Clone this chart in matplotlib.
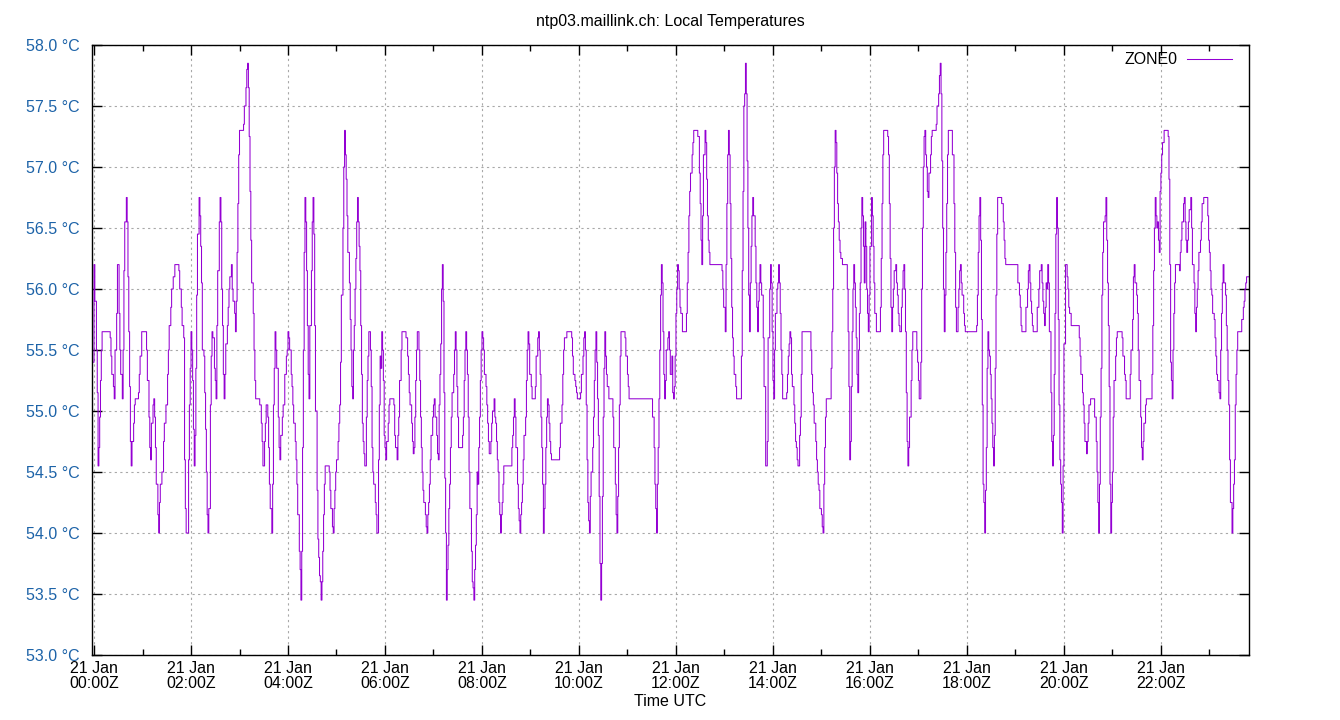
import numpy as np
import matplotlib
matplotlib.use("Agg")
import matplotlib.pyplot as plt
from matplotlib.ticker import FixedLocator, FuncFormatter

plt.rcParams['font.family'] = ['Liberation Sans', 'DejaVu Sans']

# readings as (minutes after 21 Jan 00:00Z, temperature in degC), one list per 2 hours
block_00 = [(-3, 54.3), (-2, 55.4), (0, 56.2), (1, 55.9), (3, 55.5), (4, 55.15), (5, 54.55), (6, 54.7),
            (7, 54.95), (8, 55.25), (9, 55.5), (10, 55.65), (20, 55.6), (21, 55.45), (22, 55.3), (24, 55.2),
            (25, 55.1), (26, 55.5), (28, 55.8), (29, 56.2), (31, 55.8), (32, 55.5), (33, 55.3), (35, 55.1),
            (36, 55.5), (37, 56.15), (38, 56.55), (40, 56.75), (41, 56.55), (42, 56.1), (43, 55.65), (44, 55.2),
            (45, 54.75), (46, 54.55), (47, 54.75), (49, 54.9), (50, 55.05), (51, 55.1), (55, 55.15), (56, 55.3),
            (57, 55.45), (59, 55.65), (65, 55.5), (66, 55.25), (68, 54.95), (69, 54.7), (70, 54.6), (71, 54.9),
            (73, 55.05), (74, 55.1), (75, 54.95), (76, 54.7), (77, 54.4), (79, 54.15), (80, 54.0), (81, 54.25),
            (82, 54.4), (84, 54.5), (86, 54.75), (87, 54.9), (89, 55.05), (91, 55.3), (92, 55.5), (93, 55.7),
            (95, 55.85), (96, 56.0), (98, 56.1), (100, 56.2), (105, 56.15), (106, 56.0), (108, 55.85), (109, 55.7),
            (111, 55.6), (112, 54.6), (113, 54.2), (114, 54.0)]
block_02 = [(117, 54.6), (118, 55.05), (119, 55.35), (120, 55.65), (121, 55.5), (122, 55.25), (123, 54.85),
            (124, 54.55), (125, 54.8), (126, 55.35), (127, 55.95), (128, 56.45), (130, 56.75), (131, 56.6),
            (132, 56.35), (133, 56.05), (134, 55.5), (136, 55.45), (137, 55.15), (138, 54.85), (139, 54.5),
            (140, 54.15), (141, 54.0), (142, 54.2), (144, 55.05), (145, 55.45), (146, 55.65), (147, 55.6),
            (149, 55.35), (150, 55.25), (151, 55.1), (152, 55.7), (153, 56.15), (155, 56.55), (156, 56.75),
            (157, 56.55), (158, 56.0), (159, 55.7), (160, 55.3), (161, 55.1), (162, 55.3), (163, 55.55),
            (165, 55.7), (166, 55.85), (167, 56.0), (168, 56.1), (170, 56.2), (171, 56.0), (172, 55.9),
            (174, 55.8), (175, 55.65), (176, 55.9), (177, 56.3), (178, 56.7), (179, 57.1), (180, 57.3),
            (185, 57.35), (186, 57.5), (188, 57.65), (189, 57.8), (190, 57.85), (191, 57.65), (192, 57.25),
            (193, 56.8), (194, 56.4), (195, 56.05), (197, 55.8), (198, 55.5), (199, 55.25), (200, 55.1),
            (205, 55.05), (207, 54.9), (208, 54.75), (209, 54.55), (211, 54.75), (212, 54.9), (213, 55.05),
            (215, 54.95), (216, 54.7), (217, 54.4), (218, 54.2), (220, 54.0), (221, 54.4), (222, 55.05),
            (223, 55.35), (224, 55.65), (225, 55.5), (226, 55.35), (228, 54.95), (229, 54.7), (230, 54.6),
            (231, 54.8), (233, 54.95), (234, 55.05)]
block_04 = [(236, 55.3), (238, 55.45), (239, 55.5), (240, 55.65), (241, 55.6), (242, 55.5), (244, 55.3),
            (245, 55.2), (246, 55.05), (247, 54.9), (249, 54.75), (250, 54.6), (251, 54.4), (252, 54.15),
            (254, 53.85), (255, 53.7), (256, 53.45), (257, 53.85), (258, 54.7), (259, 55.5), (260, 56.3),
            (261, 56.75), (262, 56.55), (263, 56.15), (264, 55.7), (265, 55.3), (266, 55.1), (267, 55.7),
            (269, 56.15), (270, 56.55), (271, 56.75), (272, 56.45), (273, 55.7), (274, 55.0), (276, 54.35),
            (277, 53.95), (278, 53.8), (279, 53.65), (280, 53.6), (281, 53.45), (282, 53.6), (283, 53.85),
            (284, 54.15), (285, 54.4), (286, 54.55), (291, 54.5), (292, 54.35), (293, 54.2), (295, 54.05),
            (296, 54.0), (297, 54.2), (298, 54.35), (299, 54.5), (300, 54.6), (302, 54.75), (303, 54.9),
            (304, 55.05), (305, 55.4), (306, 55.95), (308, 56.5), (309, 57.0), (310, 57.3), (311, 57.1),
            (312, 56.9), (313, 56.6), (314, 56.3), (316, 56.05), (317, 55.75), (318, 55.5), (319, 55.2),
            (320, 55.1), (321, 55.5), (322, 55.7), (323, 56.0), (324, 56.25), (325, 56.55), (326, 56.75),
            (327, 56.55), (328, 56.35), (329, 56.15), (330, 55.7), (331, 55.3), (332, 54.9), (333, 54.75),
            (334, 54.65), (335, 54.55), (337, 54.95), (338, 55.25), (339, 55.45), (340, 55.65), (342, 55.5),
            (343, 55.2), (344, 54.7), (345, 54.5), (346, 54.4), (348, 54.25), (349, 54.15), (350, 54.0),
            (352, 54.6), (353, 55.05), (354, 55.45)]
block_06 = [(355, 55.35), (356, 55.65), (357, 55.5), (358, 55.25), (359, 54.8), (360, 54.7), (361, 54.6),
            (362, 54.75), (364, 54.9), (365, 55.05), (366, 55.1), (371, 55.05), (372, 54.8), (373, 54.7),
            (375, 54.6), (376, 54.8), (377, 54.95), (378, 55.25), (380, 55.5), (381, 55.65), (386, 55.6),
            (388, 55.45), (389, 55.3), (390, 55.15), (391, 55.05), (393, 54.9), (394, 54.75), (395, 54.65),
            (396, 54.7), (397, 54.95), (398, 55.25), (399, 55.5), (400, 55.65), (402, 55.5), (403, 55.25),
            (404, 54.95), (405, 54.7), (406, 54.5), (407, 54.35), (408, 54.25), (410, 54.15), (411, 54.05),
            (412, 54.0), (413, 54.15), (414, 54.25), (415, 54.4), (416, 54.6), (417, 54.8), (419, 54.95),
            (420, 55.05), (421, 55.1), (422, 54.95), (424, 54.8), (425, 54.65), (426, 54.6), (427, 55.05),
            (428, 55.3), (429, 55.55), (430, 56.0), (431, 56.2), (432, 55.9), (433, 55.15), (434, 54.45),
            (435, 54.0), (436, 53.45), (437, 53.7), (438, 53.9), (439, 54.2), (440, 54.4), (441, 54.7),
            (442, 54.95), (443, 55.15), (445, 55.3), (446, 55.5), (447, 55.65), (448, 55.5), (449, 55.2),
            (450, 54.95), (451, 54.7), (456, 54.8), (457, 54.95), (458, 55.25), (459, 55.5), (460, 55.65),
            (461, 55.5), (462, 55.3), (463, 54.95), (464, 54.5), (465, 54.2), (467, 53.85), (468, 53.6),
            (469, 53.55), (470, 53.45), (471, 53.7), (472, 53.9), (473, 54.15), (474, 54.5)]
block_08 = [(475, 54.4), (476, 54.7), (477, 54.95), (478, 55.25), (479, 55.5), (480, 55.65), (481, 55.6),
            (482, 55.5), (483, 55.3), (485, 55.2), (486, 55.05), (487, 54.9), (488, 54.75), (489, 54.65),
            (491, 54.75), (492, 54.9), (493, 55.0), (495, 55.1), (496, 54.95), (497, 54.9), (498, 54.75),
            (499, 54.6), (500, 54.5), (501, 54.25), (502, 54.15), (503, 54.0), (504, 54.15), (505, 54.25),
            (506, 54.4), (507, 54.55), (517, 54.7), (518, 54.8), (519, 54.95), (520, 55.1), (521, 54.95),
            (522, 54.7), (524, 54.4), (525, 54.2), (526, 54.1), (527, 54.0), (528, 54.15), (529, 54.25),
            (530, 54.4), (531, 54.6), (532, 54.8), (534, 54.95), (535, 55.25), (536, 55.5), (537, 55.65),
            (538, 55.55), (539, 55.3), (541, 55.2), (542, 55.1), (546, 55.2), (547, 55.45), (549, 55.6),
            (550, 55.65), (551, 55.5), (552, 55.3), (553, 54.95), (554, 54.7), (555, 54.4), (556, 54.0),
            (557, 54.2), (558, 54.4), (559, 54.7), (560, 54.95), (561, 55.1), (562, 55.05), (563, 54.9),
            (564, 54.75), (565, 54.65), (566, 54.6), (576, 54.7), (577, 54.9), (579, 55.05), (580, 55.3),
            (581, 55.5), (582, 55.6), (585, 55.65), (591, 55.6), (592, 55.45), (593, 55.3), (595, 55.25)]
block_10 = [(596, 55.2), (597, 55.15), (598, 55.1), (602, 55.15), (603, 55.3), (605, 55.45), (606, 55.6),
            (607, 55.65), (608, 55.5), (609, 55.05), (610, 54.6), (611, 54.25), (612, 54.1), (613, 54.0),
            (614, 54.3), (615, 54.5), (617, 54.7), (618, 54.95), (619, 55.25), (620, 55.5), (621, 55.65),
            (622, 55.4), (623, 55.1), (624, 54.8), (625, 54.3), (626, 53.75), (627, 53.45), (628, 53.75),
            (629, 54.3), (630, 54.95), (631, 55.35), (632, 55.65), (633, 55.45), (634, 55.3), (635, 55.2),
            (637, 55.1), (642, 54.95), (643, 54.7), (645, 54.4), (646, 54.15), (647, 54.0), (648, 54.3),
            (649, 54.7), (650, 55.05), (651, 55.45), (652, 55.65), (657, 55.6), (658, 55.45), (660, 55.3),
            (661, 55.2), (662, 55.1), (691, 54.95), (693, 54.7), (694, 54.4), (695, 54.2), (696, 54.0),
            (697, 54.4), (698, 54.7), (699, 55.1), (700, 55.5), (701, 55.95), (702, 56.2), (703, 56.05),
            (704, 55.65), (705, 55.3), (706, 55.1), (707, 55.25), (708, 55.5), (710, 55.6), (711, 55.65),
            (712, 55.5), (713, 55.3), (715, 55.45)]
block_12 = [(716, 55.15), (717, 55.1), (718, 55.2), (719, 55.45), (720, 55.8), (721, 56.0), (722, 56.2),
            (723, 56.15), (724, 56.0), (725, 55.85), (726, 55.8), (728, 55.65), (733, 55.8), (734, 56.05),
            (735, 56.3), (736, 56.6), (737, 56.8), (738, 56.95), (740, 57.1), (741, 57.2), (742, 57.3),
            (747, 57.25), (749, 56.95), (750, 56.7), (751, 56.4), (752, 56.2), (753, 56.6), (754, 57.1),
            (756, 57.3), (757, 57.2), (758, 56.9), (759, 56.6), (760, 56.4), (761, 56.3), (762, 56.2),
            (777, 56.15), (778, 56.0), (779, 55.85), (781, 55.65), (782, 56.2), (783, 56.7), (784, 57.1),
            (785, 57.3), (786, 57.1), (787, 56.7), (788, 56.25), (789, 55.85), (790, 55.6), (791, 55.45),
            (792, 55.3), (794, 55.2), (795, 55.1), (801, 55.45), (802, 56.15), (803, 56.8), (804, 57.5),
            (805, 57.6), (806, 57.85), (807, 57.6), (808, 57.05), (809, 56.5), (810, 55.95), (811, 55.65),
            (812, 56.05), (813, 56.35), (814, 56.6), (815, 56.75), (816, 56.6), (818, 56.35), (819, 56.05),
            (820, 55.85), (821, 55.65), (822, 55.9), (823, 56.05), (824, 56.2), (825, 56.05), (826, 55.95),
            (828, 55.6), (829, 55.2), (831, 54.55), (833, 54.75), (834, 55.6)]
block_14 = [(835, 55.6), (836, 56.0), (837, 56.2), (838, 56.05), (839, 55.65), (840, 55.25), (841, 55.1),
            (842, 55.5), (843, 55.8), (845, 56.0), (846, 56.05), (847, 56.2), (848, 56.05), (849, 55.8),
            (850, 55.5), (851, 55.3), (852, 55.1), (857, 55.15), (858, 55.3), (859, 55.45), (860, 55.55),
            (861, 55.65), (862, 55.6), (863, 55.3), (864, 55.2), (866, 55.05), (867, 54.9), (868, 54.75),
            (869, 54.7), (870, 54.6), (871, 54.55), (873, 54.8), (874, 54.95), (875, 55.3), (876, 55.65),
            (887, 55.5), (888, 55.3), (889, 55.15), (890, 55.05), (891, 54.9), (893, 54.75), (894, 54.6),
            (895, 54.5), (896, 54.4), (897, 54.35), (898, 54.2), (900, 54.15), (901, 54.05), (902, 54.0),
            (903, 54.4), (904, 54.7), (905, 54.95), (906, 55.1), (912, 55.35), (913, 55.65), (914, 56.0),
            (915, 56.5), (916, 57.0), (917, 57.3), (918, 57.2), (919, 56.95), (920, 56.7), (921, 56.55),
            (922, 56.4), (923, 56.3), (924, 56.25), (926, 56.2), (932, 56.0), (933, 55.65), (934, 55.2),
            (935, 54.6), (936, 54.75), (937, 55.2), (938, 55.65), (939, 56.0), (940, 56.2), (941, 56.05),
            (942, 55.85), (943, 55.6), (944, 55.3), (945, 55.15), (946, 55.5), (947, 55.8), (948, 56.05),
            (949, 56.5), (950, 56.75), (951, 56.6), (952, 56.35), (953, 56.05)]
block_16 = [(954, 56.55), (955, 56.35), (956, 56.0), (957, 55.8), (958, 55.65), (959, 55.95), (960, 56.35),
            (962, 56.75), (963, 56.6), (964, 56.35), (965, 56.05), (966, 55.8), (968, 55.65), (973, 55.85),
            (974, 56.25), (975, 56.7), (976, 57.1), (977, 57.3), (982, 57.25), (983, 57.1), (984, 56.7),
            (985, 56.25), (986, 55.85), (987, 55.65), (988, 55.85), (989, 56.0), (990, 56.15), (992, 56.2),
            (993, 56.05), (994, 55.95), (995, 55.8), (996, 55.7), (997, 55.65), (999, 55.85), (1000, 56.0),
            (1001, 56.15), (1002, 56.2), (1003, 56.0), (1004, 55.65), (1005, 55.15), (1006, 54.75),
            (1007, 54.55), (1008, 54.7), (1009, 54.95), (1011, 55.25), (1012, 55.5), (1013, 55.65),
            (1018, 55.5), (1019, 55.4), (1020, 55.25), (1021, 55.1), (1023, 55.4), (1024, 56.0), (1025, 56.5),
            (1026, 57.0), (1027, 57.25), (1028, 57.3), (1029, 57.1), (1030, 57.0), (1031, 56.8), (1032, 56.75),
            (1033, 56.95), (1035, 57.1), (1036, 57.25), (1037, 57.3), (1042, 57.35), (1043, 57.5), (1045, 57.6),
            (1046, 57.75), (1047, 57.85), (1048, 57.6), (1049, 57.05), (1050, 56.5), (1051, 56.0), (1052, 55.65),
            (1053, 55.95), (1054, 56.3), (1055, 56.7), (1056, 57.1), (1057, 57.3), (1062, 57.1), (1064, 56.7),
            (1065, 56.3), (1066, 55.85), (1067, 55.65), (1069, 55.85), (1070, 56.0), (1071, 56.15),
            (1072, 56.2), (1073, 56.05), (1074, 55.95)]
block_18 = [(1076, 55.8), (1077, 55.7), (1078, 55.65), (1092, 55.7), (1093, 55.95), (1094, 56.3), (1095, 56.6),
            (1096, 56.75), (1097, 56.4), (1098, 55.75), (1099, 55.05), (1100, 54.4), (1101, 54.25), (1102, 54.0),
            (1103, 54.35), (1104, 54.7), (1105, 55.35), (1106, 55.65), (1107, 55.5), (1108, 55.45), (1109, 55.3),
            (1110, 55.1), (1111, 54.9), (1112, 54.7), (1113, 54.55), (1114, 54.8), (1115, 55.35), (1116, 55.95),
            (1117, 56.45), (1118, 56.75), (1123, 56.7), (1125, 56.55), (1126, 56.4), (1127, 56.25), (1128, 56.2),
            (1143, 56.05), (1145, 55.95), (1146, 55.85), (1147, 55.7), (1148, 55.65), (1153, 55.85), (1155, 56.0),
            (1156, 56.15), (1157, 56.2), (1158, 56.05), (1159, 55.9), (1160, 55.8), (1161, 55.7), (1162, 55.65),
            (1167, 55.85), (1169, 56.0), (1170, 56.15), (1172, 56.2), (1173, 56.05), (1174, 55.9), (1175, 55.8),
            (1176, 55.7), (1177, 55.85), (1178, 56.05), (1179, 56.0), (1180, 56.2), (1181, 56.05), (1182, 55.65),
            (1184, 55.15), (1185, 54.75), (1186, 54.55), (1187, 54.8), (1188, 55.3), (1189, 55.8), (1190, 56.45),
            (1191, 56.75), (1192, 56.5), (1193, 55.75), (1194, 55.05)]
block_20 = [(1195, 54.6), (1196, 54.4), (1197, 54.25), (1198, 54.0), (1199, 54.55), (1200, 55.55), (1202, 56.2),
            (1204, 56.1), (1205, 56.0), (1206, 55.85), (1207, 55.8), (1209, 55.7), (1219, 55.6), (1220, 55.45),
            (1221, 55.3), (1223, 55.15), (1224, 55.05), (1225, 54.9), (1226, 54.75), (1228, 54.65), (1229, 54.75),
            (1230, 54.9), (1231, 55.05), (1233, 55.1), (1238, 54.95), (1240, 54.75), (1241, 54.5), (1242, 54.25),
            (1243, 54.0), (1244, 54.4), (1245, 54.95), (1246, 55.35), (1247, 55.95), (1248, 56.3), (1249, 56.55),
            (1251, 56.6), (1252, 56.75), (1253, 56.4), (1254, 56.05), (1255, 55.7), (1256, 55.2), (1257, 54.4),
            (1258, 54.0), (1259, 54.25), (1260, 54.5), (1261, 54.95), (1262, 55.25), (1264, 55.45), (1265, 55.6),
            (1266, 55.65), (1272, 55.6), (1273, 55.45), (1275, 55.3), (1276, 55.25), (1277, 55.1), (1282, 55.3),
            (1283, 55.5), (1285, 55.75), (1286, 56.1), (1287, 56.2), (1288, 56.05), (1290, 55.95), (1291, 55.8),
            (1292, 55.5), (1293, 55.25), (1295, 54.95), (1296, 54.7), (1297, 54.6), (1298, 54.75), (1299, 54.9),
            (1301, 55.05), (1302, 55.1), (1309, 55.3), (1310, 55.7), (1311, 56.15), (1312, 56.5), (1313, 56.75),
            (1314, 56.6)]
block_22 = [(1315, 56.5), (1316, 56.55), (1317, 56.4), (1318, 56.3), (1319, 56.8), (1320, 56.95), (1321, 57.1),
            (1322, 57.2), (1324, 57.3), (1329, 57.25), (1330, 56.9), (1331, 56.2), (1332, 55.4), (1333, 55.25),
            (1334, 55.1), (1335, 55.5), (1336, 55.8), (1337, 56.05), (1338, 56.2), (1343, 56.15), (1344, 56.3),
            (1345, 56.4), (1346, 56.55), (1348, 56.7), (1349, 56.75), (1350, 56.55), (1351, 56.4), (1352, 56.3),
            (1353, 56.4), (1354, 56.55), (1355, 56.65), (1357, 56.75), (1358, 56.5), (1359, 56.2), (1361, 56.05),
            (1362, 55.8), (1363, 55.65), (1364, 55.85), (1365, 56.0), (1366, 56.15), (1367, 56.3), (1369, 56.4),
            (1370, 56.55), (1371, 56.7), (1373, 56.75), (1378, 56.6), (1379, 56.4), (1380, 56.3), (1381, 56.15),
            (1382, 56.0), (1383, 55.95), (1384, 55.8), (1386, 55.75), (1387, 55.6), (1388, 55.45), (1389, 55.3),
            (1390, 55.25), (1392, 55.15), (1393, 55.1), (1394, 55.5), (1395, 55.8), (1396, 56.05), (1397, 56.2),
            (1398, 56.05), (1400, 55.95), (1401, 55.7), (1402, 55.5), (1403, 55.25), (1404, 55.05), (1405, 54.6),
            (1406, 54.25), (1408, 54.0), (1409, 54.2), (1410, 54.4), (1411, 54.6), (1412, 55.05), (1413, 55.3),
            (1414, 55.5), (1415, 55.65), (1420, 55.75), (1422, 55.85), (1423, 55.9), (1424, 56.0), (1425, 56.05),
            (1426, 56.1), (1429, 56.1)]

blocks = [block_00, block_02, block_04, block_06, block_08, block_10,
          block_12, block_14, block_16, block_18, block_20, block_22]
minutes = np.array([p[0] for b in blocks for p in b], dtype=float)
temps = np.array([p[1] for b in blocks for p in b])

tick_hours = list(range(0, 24, 2))
y_ticks = np.arange(53.0, 58.01, 0.5)

label_blue = '#1d63a8'
line_purple = '#9400d3'

fig = plt.figure(figsize=(13.4, 7.2), dpi=100)
ax = fig.add_axes([92 / 1340, 1 - 655 / 720, (1249 - 92) / 1340, (655 - 45) / 720])

ax.step(minutes, temps, where='post', color=line_purple, lw=0.75, label='ZONE0')

ax.set_xlim(minutes.min() + 0.5, minutes.max())
ax.set_ylim(53.0, 58.0)

ax.xaxis.set_major_locator(FixedLocator([h * 60 for h in tick_hours]))
ax.xaxis.set_minor_locator(FixedLocator([h * 60 + 60 for h in tick_hours]))
ax.xaxis.set_major_formatter(FuncFormatter(lambda v, p: "21 Jan\n%02d:00Z" % int(round(v / 60))))
ax.set_yticks(y_ticks)
ax.yaxis.set_major_formatter(FuncFormatter(lambda v, p: "%.1f \u00b0C" % v))

ax.tick_params(axis='both', which='both', direction='in', top=True, right=True, labelsize=11.5)
ax.tick_params(axis='both', which='major', length=7, width=1)
ax.tick_params(axis='both', which='minor', length=4, width=1)
ax.tick_params(axis='y', colors='black', labelcolor=label_blue, pad=9)
ax.tick_params(axis='x', pad=4)
for lbl in ax.get_xticklabels():
    lbl.set_linespacing(1.05)

ax.grid(True, which='major', color='#a8a8a8', linestyle=(0, (2, 3)), lw=0.8)
for s in ax.spines.values():
    s.set_linewidth(1.0)
    s.set_color('black')

ax.set_title("ntp03.maillink.ch: Local Temperatures", fontsize=11.5, pad=14)
ax.set_xlabel("Time UTC", fontsize=11.5, labelpad=2)

leg = ax.legend(loc='upper right', frameon=False, markerfirst=False, fontsize=11.5,
                handlelength=2.8, borderaxespad=0.3, handletextpad=0.6,
                bbox_to_anchor=(1 - 6 / 1157, 1 + 4 / 610))

fig.savefig("out.png", dpi=100)
